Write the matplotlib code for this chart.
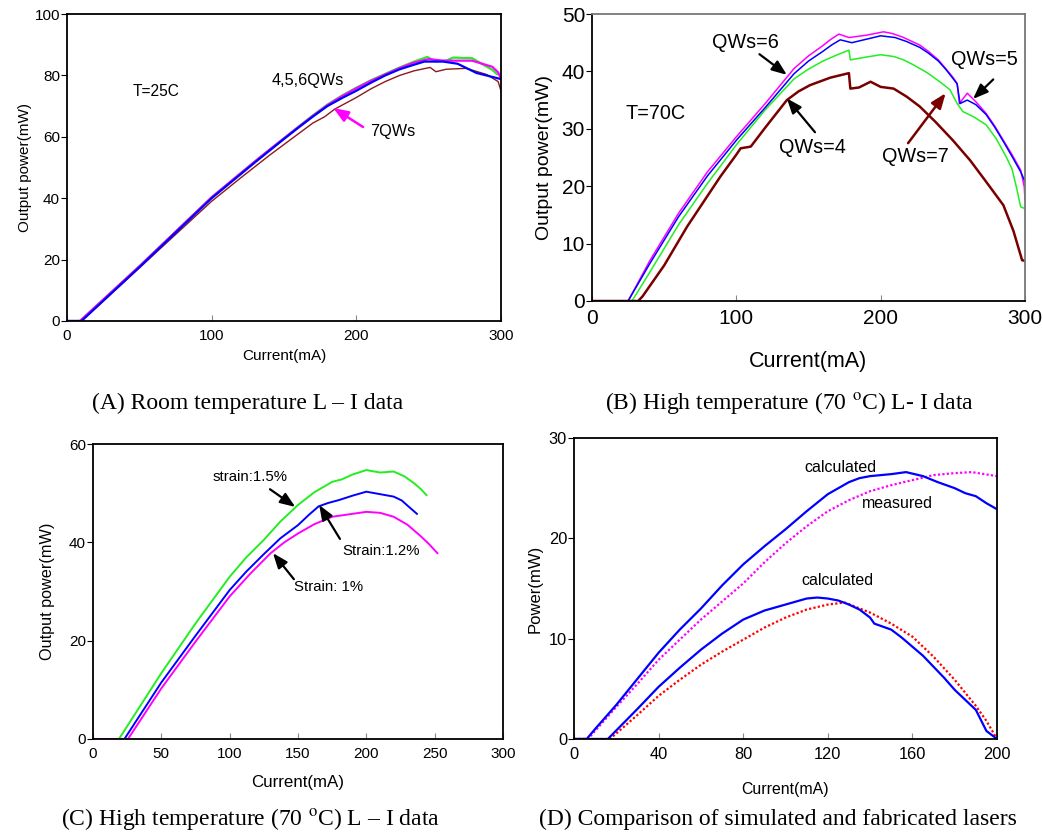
import matplotlib
matplotlib.use("Agg")
import matplotlib.pyplot as plt

plt.rcParams['font.family'] = ['Liberation Sans', 'DejaVu Sans']
plt.rcParams['mathtext.fontset'] = 'stix'

# ---------------- data ----------------
# Panel A: room temperature L-I (T=25C)
a_green_x = [0, 9, 50, 100, 110, 120, 130, 140, 150, 160, 170, 180, 190, 200, 210, 220, 230, 240, 249, 255, 262, 267, 280, 294, 297, 300]
a_green_y = [0, 0, 17.8, 40.3, 44.2, 48.1, 52, 55.8, 59.5, 63.3, 67, 70.5, 73.4, 76, 78.4, 80.5, 82.6, 84.5, 86, 84.6, 84.8, 85.8, 85.6, 81.8, 80.5, 80]
a_blue_x = [0, 10, 50, 100, 110, 120, 130, 140, 150, 160, 170, 180, 190, 200, 210, 220, 230, 240, 247, 260, 270, 283, 300]
a_blue_y = [0, 0, 17.5, 40, 43.9, 47.8, 51.7, 55.5, 59.3, 63, 66.6, 70, 72.6, 75, 77.6, 80, 82, 83.5, 84.5, 84.5, 83.8, 80.8, 78.8]
a_mag_x = [0, 9, 50, 100, 110, 120, 130, 140, 150, 160, 170, 180, 190, 200, 210, 220, 230, 240, 250, 260, 280, 294, 298, 300]
a_mag_y = [0, 0, 17.8, 40.3, 44.2, 48.1, 52, 55.8, 59.5, 63.2, 66.8, 70.3, 73.2, 75.8, 78.2, 80.3, 82.4, 84.2, 85.3, 84.8, 84.8, 82.8, 81, 79]
a_brown_x = [0, 10, 50, 100, 120, 140, 150, 160, 170, 178, 185, 200, 210, 220, 230, 240, 251, 255, 262, 276, 290, 298, 300]
a_brown_y = [0, 0, 17.3, 39, 46.6, 54, 57.5, 61, 64.5, 66.5, 69, 72.8, 75.6, 78, 80, 81.5, 82.6, 81.2, 82, 82.3, 80.3, 78, 75]

# Panel B: high temperature L-I (T=70C)
b_mag_x = [0, 25, 40, 60, 80, 100, 120, 140, 150, 160, 165, 171, 178, 190, 202, 208, 215, 227, 233, 240, 245, 250, 253, 254.5, 260, 266, 273, 279, 285, 291, 297, 299.5, 300]
b_mag_y = [0, 0, 7, 15.3, 22.5, 28.6, 34.4, 40.5, 42.7, 44.5, 45.5, 46.5, 45.9, 46.3, 46.9, 46.6, 46, 44.6, 43.5, 42, 40.5, 39, 37.9, 34.4, 36.2, 34.7, 32.7, 30.5, 28, 25.5, 22.8, 19.9, 17.6]
b_blue_x = [0, 25, 40, 60, 80, 100, 120, 140, 150, 160, 166, 172, 180, 190, 200, 210, 218, 227, 233, 240, 245, 250, 253, 255, 260, 266, 273, 279, 285, 291, 297, 300]
b_blue_y = [0, 0, 6.5, 14.7, 21.8, 28, 33.7, 39.6, 41.8, 43.5, 44.6, 45.5, 45, 45.6, 46.2, 45.9, 45.2, 44.2, 43.2, 41.8, 40.4, 38.8, 37.8, 34.4, 35, 34.2, 32.5, 30.3, 27.8, 25.2, 22.5, 20.8]
b_green_x = [0, 27.7, 40, 60, 80, 100, 120, 140, 150, 160, 170, 178, 179, 190, 200, 209, 216, 223, 232, 241, 248, 253, 257, 265, 273, 280, 287, 291, 294, 297, 300]
b_green_y = [0, 0, 5, 13.3, 20.5, 27.2, 33.3, 38.7, 40.4, 41.8, 42.9, 43.7, 42, 42.5, 42.9, 42.6, 42, 41.1, 39.8, 38.2, 36.8, 34.4, 33, 32, 30.7, 28.3, 25.1, 23, 19.9, 16.4, 16.1]
b_brown_x = [0, 32, 35, 50, 66, 80, 89, 100, 103, 110, 120, 135, 143, 151, 165, 178, 179, 185, 193, 200, 209, 218, 227, 238, 250, 262, 273, 285, 292, 298, 300]
b_brown_y = [0, 0, 0.8, 6.2, 13, 18.3, 21.7, 25.5, 26.6, 26.9, 30.2, 35, 36.5, 37.6, 38.9, 39.7, 37, 37.2, 38.2, 37.3, 37, 35.6, 33.9, 31.2, 28, 24.5, 20.8, 16.7, 12.2, 7.1, 7]

# Panel C: strain comparison (70C)
c_green_x = [0, 19, 50, 75, 100, 112, 125, 137, 150, 162, 175, 182, 190, 200, 210, 220, 228, 235, 240, 244]
c_green_y = [0, 0, 13.4, 23.5, 33, 36.9, 40.5, 44.2, 47.6, 50.2, 52.3, 52.8, 53.8, 54.7, 54.2, 54.4, 53.4, 52, 50.8, 49.6]
c_blue_x = [0, 23, 50, 75, 100, 112, 125, 137, 150, 158, 165, 172, 180, 190, 200, 210, 220, 226, 230, 237]
c_blue_y = [0, 0, 11.5, 21, 30.3, 34, 37.6, 40.8, 43.5, 45.6, 47.3, 48, 48.6, 49.5, 50.3, 49.8, 49.3, 48.5, 47.5, 45.8]
c_mag_x = [0, 25.6, 50, 75, 100, 115, 130, 140, 150, 162, 175, 190, 200, 210, 220, 230, 240, 246, 252]
c_mag_y = [0, 0, 10.3, 19.8, 29, 33.6, 37.8, 40, 41.8, 43.7, 45.2, 45.8, 46.2, 46, 45.2, 43.6, 41.2, 39.6, 37.8]

# Panel D: simulated vs fabricated
d_calc1_x = [0, 6, 10, 20, 30, 40, 50, 60, 70, 80, 90, 100, 110, 120, 130, 135, 140, 145, 150, 157, 165, 172, 180, 185, 190, 195, 200]
d_calc1_y = [0, 0, 1, 3.4, 6, 8.6, 10.9, 13.0, 15.3, 17.4, 19.2, 20.9, 22.7, 24.4, 25.6, 26, 26.2, 26.3, 26.4, 26.6, 26.2, 25.6, 25, 24.5, 24.2, 23.5, 22.9]
d_meas1_x = [0, 6.6, 20, 30, 40, 50, 60, 70, 80, 90, 100, 110, 120, 130, 140, 150, 160, 170, 180, 188, 200]
d_meas1_y = [0, 0, 3.2, 5.5, 7.9, 9.9, 11.9, 13.7, 15.5, 17.6, 19.5, 21.2, 22.7, 23.8, 24.7, 25.3, 25.8, 26.3, 26.5, 26.6, 26.2]
d_calc2_x = [0, 16, 30, 40, 50, 60, 70, 80, 90, 100, 110, 115, 120, 125, 130, 135, 140, 142, 150, 155, 160, 165, 170, 175, 180, 185, 190, 195, 200]
d_calc2_y = [0, 0, 3, 5.2, 7.1, 8.9, 10.5, 11.9, 12.8, 13.4, 14, 14.1, 14, 13.8, 13.4, 12.9, 12.1, 11.5, 10.9, 10.1, 9.2, 8.3, 7.2, 6.1, 4.9, 3.9, 2.9, 0.8, 0]
d_meas2_x = [0, 17, 30, 40, 50, 60, 70, 80, 90, 100, 110, 120, 128, 140, 150, 160, 170, 180, 190, 195, 200]
d_meas2_y = [0, 0, 2.4, 4.3, 5.9, 7.4, 8.7, 9.9, 11.1, 12.1, 12.9, 13.4, 13.6, 12.6, 11.5, 10.2, 8.2, 5.9, 3.3, 1.8, 0]

a_xticks = [0, 100, 200, 300]
a_yticks = [0, 20, 40, 60, 80, 100]
b_xticks = [0, 100, 200, 300]
b_yticks = [0, 10, 20, 30, 40, 50]
c_xticks = [0, 50, 100, 150, 200, 250, 300]
c_yticks = [0, 20, 40, 60]
d_xticks = [0, 40, 80, 120, 160, 200]
d_yticks = [0, 10, 20, 30]

captions = ["(A) Room temperature L \u2013 I data",
            "(B) High temperature (70 $^{\\mathrm{o}}$C) L- I data",
            "(C) High temperature (70 $^{\\mathrm{o}}$C) L \u2013 I data",
            "(D) Comparison of simulated and fabricated lasers"]

GREEN = '#22ee22'
BLUE = '#0000ff'
MAG = '#ff00ff'
BROWN = '#8b1a1a'
MAROON = '#7a0000'
RED = '#ff0000'

W, H = 1043, 840
fig = plt.figure(figsize=(W / 100, H / 100), dpi=100)


def make_ax(l, t, r, b):
    return fig.add_axes([l / W, 1 - b / H, (r - l) / W, (b - t) / H])


def style(ax, xt, yt, fs, gray_tr=False):
    ax.set_xticks(xt)
    ax.set_yticks(yt)
    ax.set_xlim(xt[0], xt[-1])
    ax.set_ylim(yt[0], yt[-1])
    ax.tick_params(axis='x', direction='in', length=4, color='#888888', labelsize=fs, pad=6)
    ax.tick_params(axis='y', direction='out', length=4, color='black', labelsize=fs, pad=1)
    for s in ax.spines.values():
        s.set_linewidth(1.3)
        s.set_color('black')
    if gray_tr:
        ax.spines['top'].set_color('#777777')
        ax.spines['right'].set_color('#777777')


arrow_k = dict(arrowstyle='-|>,head_length=0.9,head_width=0.35', color='black', lw=1.6, shrinkA=0, shrinkB=0)

# ---------- Panel A ----------
axA = make_ax(67, 14, 501, 321)
axA.plot(a_brown_x, a_brown_y, color=BROWN, lw=1.0)
axA.plot(a_green_x, a_green_y, color=GREEN, lw=1.6)
axA.plot(a_mag_x, a_mag_y, color=MAG, lw=1.6)
axA.plot(a_blue_x, a_blue_y, color=BLUE, lw=1.6)
style(axA, a_xticks, a_yticks, 11)
axA.set_xlabel('Current(mA)', fontsize=11, labelpad=4)
axA.set_ylabel('Output power(mW)', fontsize=11, labelpad=2)
axA.text(61.5, 74.6, 'T=25C', fontsize=11.2, ha='center', va='center')
axA.text(166.6, 78.5, '4,5,6QWs', fontsize=11.7, ha='center', va='center')
axA.text(225, 61.6, '7QWs', fontsize=11.7, ha='center', va='center')
axA.annotate('', xy=(184, 69.4), xytext=(204.6, 63.2),
             arrowprops=dict(arrowstyle='-|>,head_length=0.9,head_width=0.35', color=MAG, lw=1.8,
                             shrinkA=0, shrinkB=0))

# ---------- Panel B ----------
axB = make_ax(592, 14, 1025, 301)
axB.plot(b_green_x, b_green_y, color=GREEN, lw=1.1)
axB.plot(b_mag_x, b_mag_y, color=MAG, lw=1.1)
axB.plot(b_blue_x, b_blue_y, color=BLUE, lw=1.1)
axB.plot(b_brown_x, b_brown_y, color=MAROON, lw=1.8)
style(axB, b_xticks, b_yticks, 15, gray_tr=True)
axB.set_xlabel('Current(mA)', fontsize=15.5, labelpad=16)
axB.set_ylabel('Output power(mW)', fontsize=14, labelpad=6)
axB.text(43.7, 32.7, 'T=70C', fontsize=14.3, ha='center', va='center')
axB.text(106, 45.1, 'QWs=6', fontsize=14.3, ha='center', va='center')
axB.annotate('', xy=(135, 39.4), xytext=(116, 43.0), arrowprops=arrow_k)
axB.text(272, 42.0, 'QWs=5', fontsize=14.3, ha='center', va='center')
axB.annotate('', xy=(264, 35.2), xytext=(278, 38.6), arrowprops=arrow_k)
axB.text(153, 26.8, 'QWs=4', fontsize=14.3, ha='center', va='center')
axB.annotate('', xy=(135, 35.3), xytext=(154.5, 29.4), arrowprops=arrow_k)
axB.text(224, 25.1, 'QWs=7', fontsize=14.3, ha='center', va='center')
axB.annotate('', xy=(245, 36.2), xytext=(219, 27.5),
             arrowprops=dict(arrowstyle='-|>,head_length=0.9,head_width=0.35', color=MAROON, lw=1.8,
                             shrinkA=0, shrinkB=0))

# ---------- Panel C ----------
axC = make_ax(93, 444, 503, 739)
axC.plot(c_green_x, c_green_y, color=GREEN, lw=1.4)
axC.plot(c_blue_x, c_blue_y, color=BLUE, lw=1.4)
axC.plot(c_mag_x, c_mag_y, color=MAG, lw=1.4)
style(axC, c_xticks, c_yticks, 11)
axC.set_xlabel('Current(mA)', fontsize=12.2, labelpad=10)
axC.set_ylabel('Output power(mW)', fontsize=11.7, labelpad=10)
axC.text(115, 53.3, 'strain:1.5%', fontsize=10.8, ha='center', va='center')
axC.annotate('', xy=(148, 47.2), xytext=(129.5, 50.8), arrowprops=arrow_k)
axC.text(211, 38.2, 'Strain:1.2%', fontsize=10.8, ha='center', va='center')
axC.annotate('', xy=(165.5, 47.6), xytext=(180.7, 40.7), arrowprops=arrow_k)
axC.text(172, 30.9, 'Strain: 1%', fontsize=10.8, ha='center', va='center')
axC.annotate('', xy=(131.7, 37.8), xytext=(147, 32.5), arrowprops=arrow_k)

# ---------- Panel D ----------
axD = make_ax(574, 438, 997, 739)
axD.plot(d_meas1_x, d_meas1_y, color=MAG, lw=1.6, ls=(0, (1, 1)))
axD.plot(d_meas2_x, d_meas2_y, color=RED, lw=1.6, ls=(0, (1, 1)))
axD.plot(d_calc1_x, d_calc1_y, color=BLUE, lw=1.6)
axD.plot(d_calc2_x, d_calc2_y, color=BLUE, lw=1.6)
style(axD, d_xticks, d_yticks, 11.8)
axD.set_xlabel('Current(mA)', fontsize=11.4, labelpad=14)
axD.set_ylabel('Power(mW)', fontsize=12, labelpad=4)
axD.text(125.8, 27.1, 'calculated', fontsize=11.5, ha='center', va='center')
axD.text(153, 23.5, 'measured', fontsize=11.5, ha='center', va='center')
axD.text(124.4, 15.75, 'calculated', fontsize=11.5, ha='center', va='center')

# ---------- captions ----------
cap_kw = dict(fontsize=17, family=['Liberation Serif', 'DejaVu Serif'], ha='center', va='center')
fig.text(248 / W, 1 - 403 / H, captions[0], **cap_kw)
fig.text(790 / W, 1 - 403 / H, captions[1], **cap_kw)
fig.text(250 / W, 1 - 819 / H, captions[2], **cap_kw)
fig.text(778 / W, 1 - 819 / H, captions[3], **cap_kw)

fig.savefig('out.png', dpi=100)
